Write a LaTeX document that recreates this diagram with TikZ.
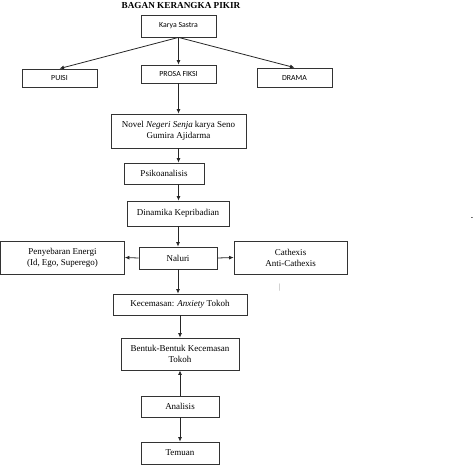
\documentclass[tikz,border=0pt]{standalone}
\usepackage{fontspec}
\setmainfont{Liberation Serif}
\newfontfamily\calib{Carlito}
\usetikzlibrary{arrows.meta}
\begin{document}
\begin{tikzpicture}[x=1pt,y=-1pt,
  box/.style={draw=black!80,line width=0.8pt,inner sep=1pt,align=center,font=\fontsize{9}{11}\selectfont},
  sbox/.style={box,font=\calib\fontsize{7.8}{9}\selectfont},
  arr/.style={draw=black!85,line width=0.8pt,-{Latex[length=4.5pt,width=4pt]}}]
\useasboundingbox (0,0) rectangle (474,475);
\node[font=\bfseries\fontsize{9.2}{10}\selectfont] (title) at (181,5) {BAGAN KERANGKA PIKIR};
\node[sbox,minimum width=75pt,minimum height=22pt] (karya) at (178.5,26) {Karya Sastra};
\node[sbox,minimum width=75pt,minimum height=18pt] (puisi) at (59.5,78) {PUISI};
\node[sbox,minimum width=75pt,minimum height=18pt] (prosa) at (178.5,74) {PROSA FIKSI};
\node[sbox,minimum width=75pt,minimum height=19pt] (drama) at (294.5,77.5) {DRAMA};
\node[box,minimum width=135pt,minimum height=34pt] (novel) at (178.5,131) {Novel \textit{Negeri Senja} karya Seno\\Gumira Ajidarma};
\node[box,minimum width=80pt,minimum height=21pt] (psiko) at (164,173.5) {Psikoanalisis};
\node[box,minimum width=102pt,minimum height=25pt] (dinamika) at (178,213.5) {Dinamika Kepribadian};
\node[box,minimum width=124pt,minimum height=33pt] (penyebaran) at (62.5,257.5) {Penyebaran Energi\\(Id, Ego, Superego)};
\node[box,minimum width=78pt,minimum height=22pt] (naluri) at (178,258) {Naluri};
\node[box,minimum width=113pt,minimum height=33pt] (cathexis) at (290.5,257.5) {Cathexis\\Anti-Cathexis};
\node[box,minimum width=134pt,minimum height=21pt] (kecemasan) at (180,304.5) {Kecemasan: \textit{Anxiety} Tokoh};
\node[box,minimum width=118pt,minimum height=32pt] (bentuk) at (180,354) {Bentuk-Bentuk Kecemasan\\Tokoh};
\node[box,minimum width=78pt,minimum height=21pt] (analisis) at (180,406.5) {Analisis};
\node[box,minimum width=78pt,minimum height=22pt] (temuan) at (180,453) {Temuan};
\node[text=black!45,font=\fontsize{8}{9}\selectfont] (mark1) at (280,288) {|};
\node[font=\bfseries\fontsize{7}{8}\selectfont] (mark2) at (472,218.5) {-};
\coordinate (ks) at (karya.south);
\draw[arr] (ks) -- (puisi.north);
\draw[arr] (ks) -- (prosa.north);
\draw[arr] (ks) -- (drama.north);
\draw[arr] (prosa.south) -- (novel.north);
\draw[arr] (novel.south) -- (novel.south |- psiko.north);
\draw[arr] (novel.south |- psiko.south) -- (novel.south |- dinamika.north);
\draw[arr] (dinamika.south) -- (naluri.north);
\draw[arr] (naluri.west) -- (penyebaran.east);
\draw[arr] (naluri.east) -- (cathexis.west);
\draw[arr] (naluri.south) -- (naluri.south |- kecemasan.north);
\draw[arr] (kecemasan.south) -- (bentuk.north);
\draw[arr] (analisis.north) -- (bentuk.south);
\draw[arr] (analisis.south) -- (temuan.north);
\end{tikzpicture}
\end{document}
